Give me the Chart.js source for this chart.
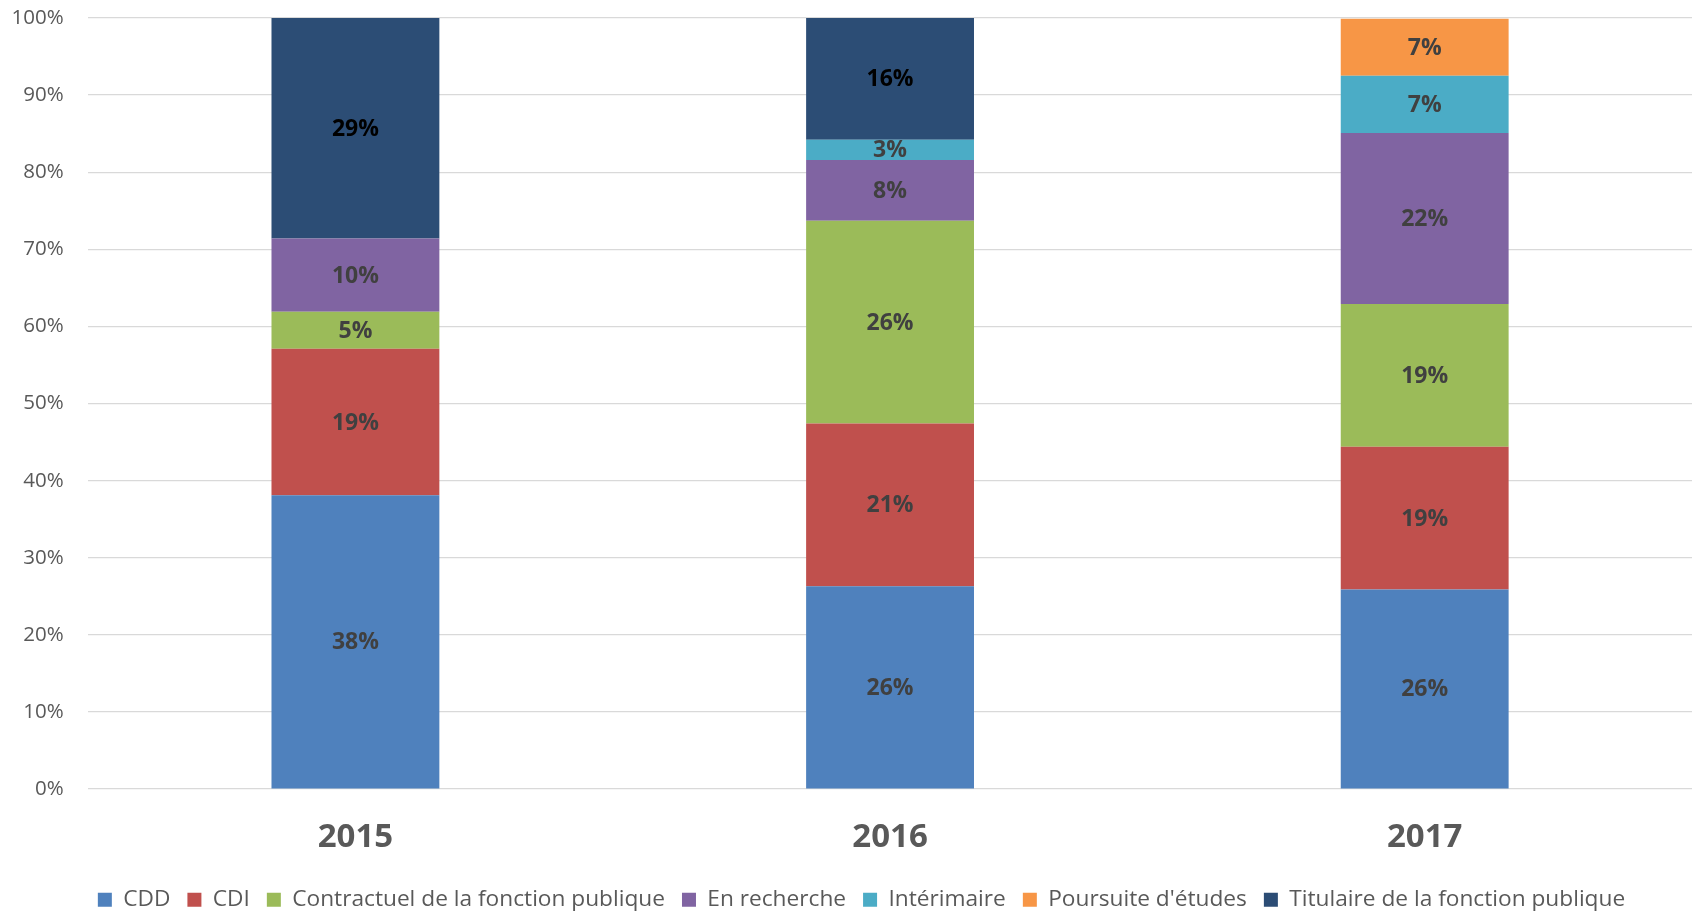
<!DOCTYPE html>
<html>
<head>
<meta charset="utf-8">
<script src="https://cdn.jsdelivr.net/npm/chart.js@4/dist/chart.umd.min.js"></script>
<style>
  html, body { margin: 0; padding: 0; background: #fff; }
  #wrap { width: 1696px; height: 913px; }
</style>
</head>
<body>
<div id="wrap"><canvas id="bar-chart"></canvas></div>
<script>
// annees
const annees = ['2015', '2016', '2017'];
// parts en % par situation (de bas en haut)
const cdd = [38.1, 26.3, 25.9];
const cdi = [19.0, 21.1, 18.5];
const contractuel = [4.8, 26.3, 18.5];
const enRecherche = [9.5, 7.9, 22.2];
const interimaire = [0, 2.6, 7.4];
const poursuite = [0, 0, 7.4];
const titulaire = [28.6, 15.8, 0];
const graduations = [0, 10, 20, 30, 40, 50, 60, 70, 80, 90, 100];

const police = "'Open Sans', 'DejaVu Sans', sans-serif";

function serie(nom, valeurs, couleur, couleurTexte) {
	return {
		label: nom,
		data: valeurs,
		backgroundColor: couleur,
		borderWidth: 0,
		couleurTexte: couleurTexte || '#404040'
	};
}

// etiquettes au centre des barres (pas de plugin datalabels dispo)
const etiquettes = {
	id: 'etiquettes',
	afterLayout(chart) {
		// legende un peu decalee vers la droite comme dans excel
		chart.legend.left += 22;
		chart.legend.right += 22;
	},
	afterDatasetsDraw(chart) {
		const ctx = chart.ctx;
		chart.data.datasets.forEach(function(ds, i) {
			const meta = chart.getDatasetMeta(i);
			if (meta.hidden) return;
			meta.data.forEach(function(bar, j) {
				const v = ds.data[j];
				if (!v) return;
				const c = bar.getCenterPoint();
				ctx.save();
				ctx.font = 'bold 23px ' + police;
				ctx.fillStyle = ds.couleurTexte;
				ctx.textAlign = 'center';
				ctx.textBaseline = 'middle';
				ctx.fillText(Math.round(v) + '%', c.x, c.y + 1);
				ctx.restore();
			});
		});
	}
};

new Chart(document.getElementById('bar-chart'), {
	type: 'bar',
	data: {
		labels: annees,
		datasets: [
			serie('CDD', cdd, '#4F81BD'),
			serie('CDI', cdi, '#C0504D'),
			serie('Contractuel de la fonction publique', contractuel, '#9BBB59'),
			serie('En recherche', enRecherche, '#8064A2'),
			serie('Intérimaire', interimaire, '#4BACC6'),
			serie("Poursuite d'études", poursuite, '#F79646'),
			serie('Titulaire de la fonction publique', titulaire, '#2C4D75', '#000000')
		]
	},
	options: {
		responsive: true,
		maintainAspectRatio: false,
		animation: false,
		layout: {
			padding: { left: -13, right: 4, top: 18, bottom: -8 }
		},
		datasets: {
			bar: { categoryPercentage: 1, barPercentage: 0.314 }
		},
		scales: {
			x: {
				stacked: true,
				grid: { display: false, drawTicks: false },
				border: { display: false },
				ticks: {
					color: '#595959',
					padding: 28.3,
					font: { family: police, size: 33, weight: 'bold' }
				},
				// on rapproche la legende des annees
				afterFit: function(axis) { axis.height -= 14; }
			},
			y: {
				stacked: true,
				min: 0,
				max: 100,
				afterBuildTicks: function(axis) {
					axis.ticks = graduations.map(function(v) { return { value: v }; });
				},
				afterFit: function(axis) { axis.paddingTop = 0; },
				grid: { color: '#D9D9D9', lineWidth: 1.3, drawTicks: false },
				border: { display: false },
				ticks: {
					color: '#595959',
					padding: 24.5,
					font: { family: police, size: 20.5 },
					callback: function(v) { return v + '%'; }
				}
			}
		},
		plugins: {
			legend: {
				position: 'bottom',
				labels: {
					color: '#595959',
					boxWidth: 14,
					boxHeight: 14,
					padding: 17,
					font: { family: police, size: 22.7 }
				}
			},
			tooltip: { enabled: false }
		}
	},
	plugins: [etiquettes]
});
</script>
</body>
</html>
